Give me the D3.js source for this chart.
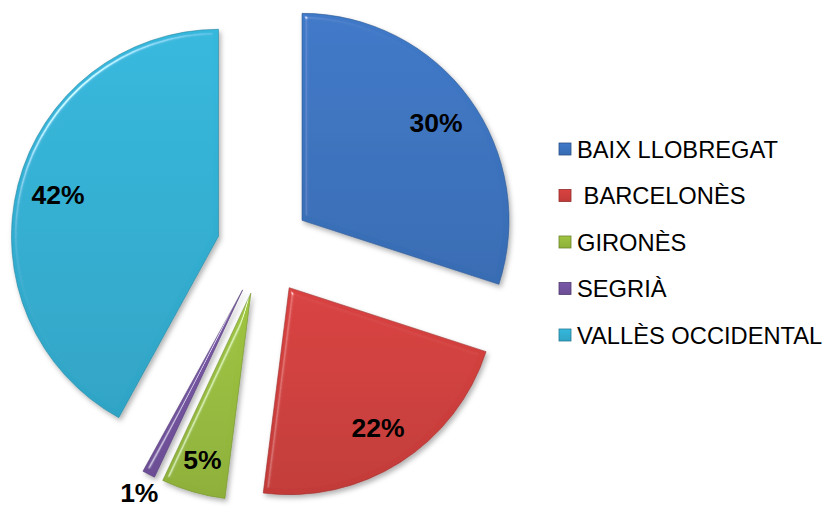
<!DOCTYPE html>
<html>
<head>
<meta charset="utf-8">
<script src="https://cdn.jsdelivr.net/npm/d3@7"></script>
<style>
  body { margin: 0; background: #fff; }
  text { font-family: 'Liberation Sans', Arial, sans-serif; }
</style>
</head>
<body>
<div id="chart"></div>
<script>
// data
let categories = ['BAIX LLOBREGAT', ' BARCELONÈS', 'GIRONÈS', 'SEGRIÀ', 'VALLÈS OCCIDENTAL']
let values = [30, 22, 5, 1, 42]
let colors = ['#3c74c0', '#d03f3d', '#98bd3e', '#7454a0', '#33b0d4']

let width = 831
let height = 512
let radius = 207
let explode = 47
let cx = 264
let cy = 248

let svg = d3.select('#chart')
  .append('svg')
  .attr('width', width)
  .attr('height', height)

let defs = svg.append('defs')

// gradients, one per colour
colors.forEach((c, i) => {
  let g = defs.append('linearGradient')
    .attr('id', 'grad' + i)
    .attr('x1', 0).attr('y1', 0).attr('x2', 0).attr('y2', 1)
  g.append('stop').attr('offset', '0%').attr('stop-color', d3.color(c).brighter(0.12))
  g.append('stop').attr('offset', '100%').attr('stop-color', d3.color(c).darker(0.2))
})

// bevel + shadow
let f = defs.append('filter')
  .attr('id', 'bevel')
  .attr('x', '-10%').attr('y', '-10%').attr('width', '120%').attr('height', '120%')
f.append('feGaussianBlur').attr('in', 'SourceAlpha').attr('stdDeviation', 2.5).attr('result', 'blur')
let spec = f.append('feSpecularLighting')
  .attr('in', 'blur')
  .attr('surfaceScale', 4)
  .attr('specularConstant', 0.6)
  .attr('specularExponent', 60)
  .attr('lighting-color', '#ffffff')
  .attr('result', 'spec')
spec.append('feDistantLight').attr('azimuth', 225).attr('elevation', 45)
f.append('feComposite').attr('in', 'spec').attr('in2', 'SourceAlpha').attr('operator', 'in').attr('result', 'specIn')
f.append('feComposite')
  .attr('in', 'SourceGraphic').attr('in2', 'specIn')
  .attr('operator', 'arithmetic')
  .attr('k1', 0).attr('k2', 1).attr('k3', 1).attr('k4', 0)
  .attr('result', 'lit')
f.append('feDropShadow')
  .attr('in', 'lit')
  .attr('dx', 2).attr('dy', 3)
  .attr('stdDeviation', 2.5)
  .attr('flood-color', '#000')
  .attr('flood-opacity', 0.3)

let pie = d3.pie().sort(null).value(d => d)
let arcs = pie(values)

let arc = d3.arc().innerRadius(0).outerRadius(radius)

let g = svg.append('g')
  .attr('transform', 'translate(' + cx + ',' + cy + ')')

let slices = g.selectAll('.slice')
  .data(arcs)
  .enter()
  .append('g')
  .attr('class', 'slice')
  .attr('transform', d => {
    let a = (d.startAngle + d.endAngle) / 2
    return 'translate(' + explode * Math.sin(a) + ',' + (-explode * Math.cos(a)) + ')'
  })

slices.append('path')
  .attr('d', arc)
  .attr('fill', (d, i) => 'url(#grad' + i + ')')
  .attr('stroke', (d, i) => d3.color(colors[i]).darker(0.8))
  .attr('stroke-width', 0.6)
  .attr('filter', 'url(#bevel)')

// percentage labels
slices.append('text')
  .attr('transform', d => {
    let a = (d.startAngle + d.endAngle) / 2
    let k = d.data < 3 ? 1.1 : (d.data < 10 ? 0.84 : 0.8)
    return 'translate(' + radius * k * Math.sin(a) + ',' + (-radius * k * Math.cos(a)) + ')'
  })
  .attr('text-anchor', 'middle')
  .attr('dy', '0.35em')
  .attr('font-size', 26.5)
  .attr('font-weight', 'bold')
  .attr('fill', '#000')
  .text(d => d.data + '%')

// legend
let legend = svg.append('g')
  .attr('transform', 'translate(559,149)')

let items = legend.selectAll('.item')
  .data(categories)
  .enter()
  .append('g')
  .attr('class', 'item')
  .attr('transform', (d, i) => 'translate(0,' + i * 46.5 + ')')

items.append('rect')
  .attr('x', 0)
  .attr('y', -6)
  .attr('width', 12)
  .attr('height', 12)
  .attr('fill', (d, i) => 'url(#grad' + i + ')')
  .attr('stroke', (d, i) => d3.color(colors[i]).darker(1))
  .attr('stroke-width', 0.8)

items.append('text')
  .attr('x', 18)
  .attr('dy', '0.36em')
  .attr('font-size', 23.7)
  .attr('fill', '#000')
  .style('white-space', 'pre')
  .text(d => d)
</script>
</body>
</html>
